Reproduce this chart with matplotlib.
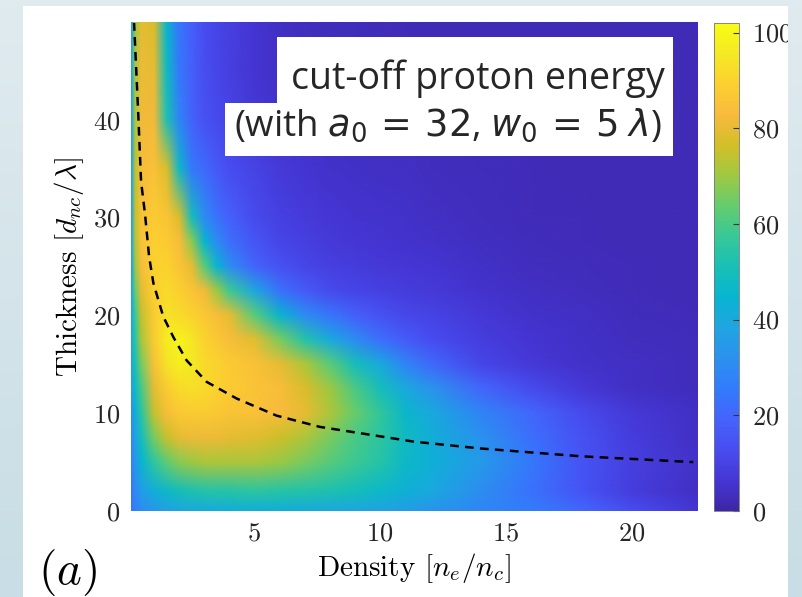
import numpy as np
import matplotlib
matplotlib.use("Agg")
import matplotlib.pyplot as plt
from matplotlib.colors import LinearSegmentedColormap
from matplotlib.patches import Rectangle
from matplotlib.image import NonUniformImage

# grid (density in n_c, thickness in lambda)
density = [0.1, 0.25, 0.5, 1.0, 1.5, 2.0, 2.5, 3.0, 3.5, 4.0, 5.0, 6.0, 7.0, 8.0, 9.0,
           10, 11, 12, 14, 16, 18, 20, 22.6]
thickness = [0, 2, 5, 7.5, 10, 12.5, 15, 17.5, 20, 22.5, 25, 27.5, 30, 35, 40, 45, 50]
energy = [
    [24, 27, 30, 34, 37, 39, 40, 41, 41, 42, 42, 42, 41, 40, 39, 38, 36, 33, 29, 26, 20, 13, 6],          # 0
    [25, 30, 36, 42, 47, 50, 52, 53, 54, 54, 55, 54, 53, 52, 50, 47, 43, 40, 31, 23, 15, 8, 4],           # 2
    [28, 34, 45, 56, 63, 68, 70, 72, 72, 72, 72, 70, 66, 62, 58, 54, 47, 43, 35, 25, 15, 9, 5],           # 5
    [30, 38, 50, 66, 75, 80, 81, 81, 81, 80, 79, 76, 72, 66, 60, 55, 48, 42, 32, 22, 14, 8, 4],           # 7.5
    [32, 42, 55, 75, 84, 87, 88, 88, 87, 86, 85, 83, 80, 72, 64, 56, 46, 40, 28, 20, 12, 7, 4],           # 10
    [38, 48, 60, 80, 88, 92, 93, 92, 90, 88, 86, 84, 78, 70, 60, 50, 40, 33, 20, 12, 7, 4, 3],            # 12.5
    [40, 52, 66, 85, 94, 98, 96, 92, 90, 88, 85, 80, 72, 62, 50, 40, 28, 21, 11, 7, 5, 4, 3],             # 15
    [40, 55, 72, 88, 97, 99, 95, 90, 87, 84, 79, 66, 53, 40, 30, 22, 17, 13, 8.5, 6, 4.5, 3.5, 3],        # 17.5
    [40, 58, 75, 88, 94, 92, 90, 87, 84, 80, 62, 45, 30, 24, 18, 14, 11.5, 10, 7, 5, 4, 3, 2.5],          # 20
    [40, 64, 80, 89, 92, 89, 86, 82, 70, 58, 39, 23, 16.5, 12, 10.5, 9.3, 8, 7.2, 5.5, 4.2, 3.3, 2.7, 2.3],  # 22.5
    [38, 70, 84, 90, 90, 86, 80, 62, 45, 31, 19.5, 14, 11, 9, 8, 7, 6.5, 6, 4.5, 3.5, 3, 2.5, 2.2],       # 25
    [38, 73, 85, 89, 88, 84, 68, 45, 30, 22.5, 15.5, 11, 9, 7.5, 6.5, 6, 5.5, 5, 3.8, 3, 2.6, 2.3, 2],   # 27.5
    [38, 75, 85, 88, 86, 78, 50, 30, 23, 18.5, 12, 9.3, 7.7, 6.5, 5.8, 5.3, 4.8, 4.3, 3.3, 2.7, 2.4, 2.2, 2],  # 30
    [38, 74, 84, 85, 78, 47, 25, 21, 16, 13, 10, 7.5, 6, 5, 4.5, 4.2, 4, 3.5, 2.8, 2.4, 2.2, 2, 2],      # 35
    [38, 72, 82, 82, 52, 28, 19, 14, 12, 10, 7, 5.5, 4.5, 4, 3.5, 3.2, 3, 2.8, 2.4, 2.2, 2, 2, 2],       # 40
    [38, 71, 81, 80, 48, 25, 18, 13.5, 11, 9, 6, 4.5, 3.8, 3.3, 3, 2.8, 2.6, 2.5, 2.2, 2, 2, 2, 2],      # 45
    [38, 70, 80, 78, 45, 24, 18, 13, 11, 9, 6, 4.2, 3.5, 3, 2.8, 2.6, 2.4, 2.3, 2.1, 2, 2, 2, 2],        # 50
]

# dashed curve
curve_density = [0.22, 0.39, 0.50, 0.66, 0.82, 0.99, 1.38, 1.78, 2.31, 3.11, 4.30,
                 5.89, 7.61, 9.60, 11.32, 13.97, 17.95, 22.45]
curve_thickness = [50, 40.5, 33.7, 30.3, 26.0, 23.3, 19.9, 17.8, 15.4, 13.2, 11.5,
                   9.75, 8.6, 7.8, 7.1, 6.4, 5.6, 5.0]

x_ticks = [5, 10, 15, 20]
y_ticks = [0, 10, 20, 30, 40]
cb_ticks = [0, 20, 40, 60, 80, 100]

# matlab parula (R2014b), every 4th entry
parula = LinearSegmentedColormap.from_list("parula", [
    (0.2422, 0.1504, 0.6603), (0.2706, 0.2147, 0.8364), (0.2813, 0.3006, 0.9414),
    (0.2699, 0.3892, 0.9906), (0.1963, 0.4847, 0.9892), (0.1687, 0.5703, 0.9359),
    (0.1248, 0.6459, 0.8883), (0.0297, 0.7082, 0.8163), (0.0964, 0.7500, 0.7120),
    (0.2161, 0.7843, 0.5923), (0.3909, 0.8029, 0.4354), (0.6174, 0.7876, 0.2612),
    (0.8203, 0.7498, 0.1535), (0.9728, 0.7298, 0.2394), (0.9892, 0.8136, 0.1885),
    (0.9597, 0.9135, 0.1423), (0.9769, 0.9839, 0.0805)], N=256)

plt.rcParams["font.family"] = "serif"
plt.rcParams["font.serif"] = ["cmr10"]
plt.rcParams["mathtext.fontset"] = "cm"
plt.rcParams["axes.formatter.use_mathtext"] = True

fig = plt.figure(figsize=(8.02, 5.97), dpi=100)
fig.patch.set_facecolor("white")
ax = fig.add_axes([131 / 802, 86 / 597, 566 / 802, 488 / 597])

im = NonUniformImage(ax, interpolation="bilinear", extent=(0.1, 22.6, 0, 50), cmap=parula)
im.set_data(density, thickness, np.array(energy, dtype=float))
im.set_clim(0, 102)
ax.add_image(im)
ax.plot(curve_density, curve_thickness, color="black", lw=1.8, linestyle=(0, (3.5, 2.5)))

ax.set_xlim(0.1, 22.6)
ax.set_ylim(0, 49.9)
ax.set_xticks(x_ticks)
ax.set_yticks(y_ticks)
ax.tick_params(length=0, pad=8, labelsize=19, labelcolor="#262626")
for s in ax.spines.values():
    s.set_visible(False)
ax.set_xlabel(r"Density $[n_e/n_c]$", fontsize=21, labelpad=4)
ax.set_ylabel(r"Thickness $[d_{nc}/\lambda]$", fontsize=21, labelpad=5)

# title box
ax.add_patch(Rectangle((0.258, 0.836), 0.70, 0.135, transform=ax.transAxes,
                       facecolor="white", edgecolor="none", zorder=3))
ax.add_patch(Rectangle((0.166, 0.727), 0.792, 0.109, transform=ax.transAxes,
                       facecolor="white", edgecolor="none", zorder=3))
ax.text(0.943, 0.865, "cut-off proton energy", transform=ax.transAxes, ha="right",
        va="baseline", fontsize=27, family="Open Sans", color="#262626", zorder=4)
ax.text(0.937, 0.770, r"(with $a_0\,=\,32$, $w_0\,=\,5\;\lambda$)", transform=ax.transAxes,
        ha="right", va="baseline", fontsize=26.5, family="Open Sans", color="#262626",
        math_fontfamily="dejavusans", zorder=4)

cax = fig.add_axes([714 / 802, 86 / 597, 25 / 802, 488 / 597])
cb = fig.colorbar(im, cax=cax, ticks=cb_ticks)
cb.outline.set_edgecolor("#777777")
cb.outline.set_linewidth(0.6)
cax.tick_params(direction="in", length=4, width=0.8, color="#333333", pad=9,
                labelsize=19, labelcolor="#262626")

fig.text(38 / 802, 1 - 572 / 597, r"$(a)$", fontsize=34, va="center", ha="left")

# slide background around the white panel
H, W = 597, 802
t = np.linspace(0, 1, H)[:, None, None]
top = np.array([224, 235, 239]) / 255
bot = np.array([200, 221, 229]) / 255
bg = np.ones((H, W, 4))
bg[..., :3] = top * (1 - t) + bot * t
bg[6:, 23:788, 3] = 0
fig.figimage(bg, xo=0, yo=0, zorder=10)

fig.savefig("out.png", dpi=100)
